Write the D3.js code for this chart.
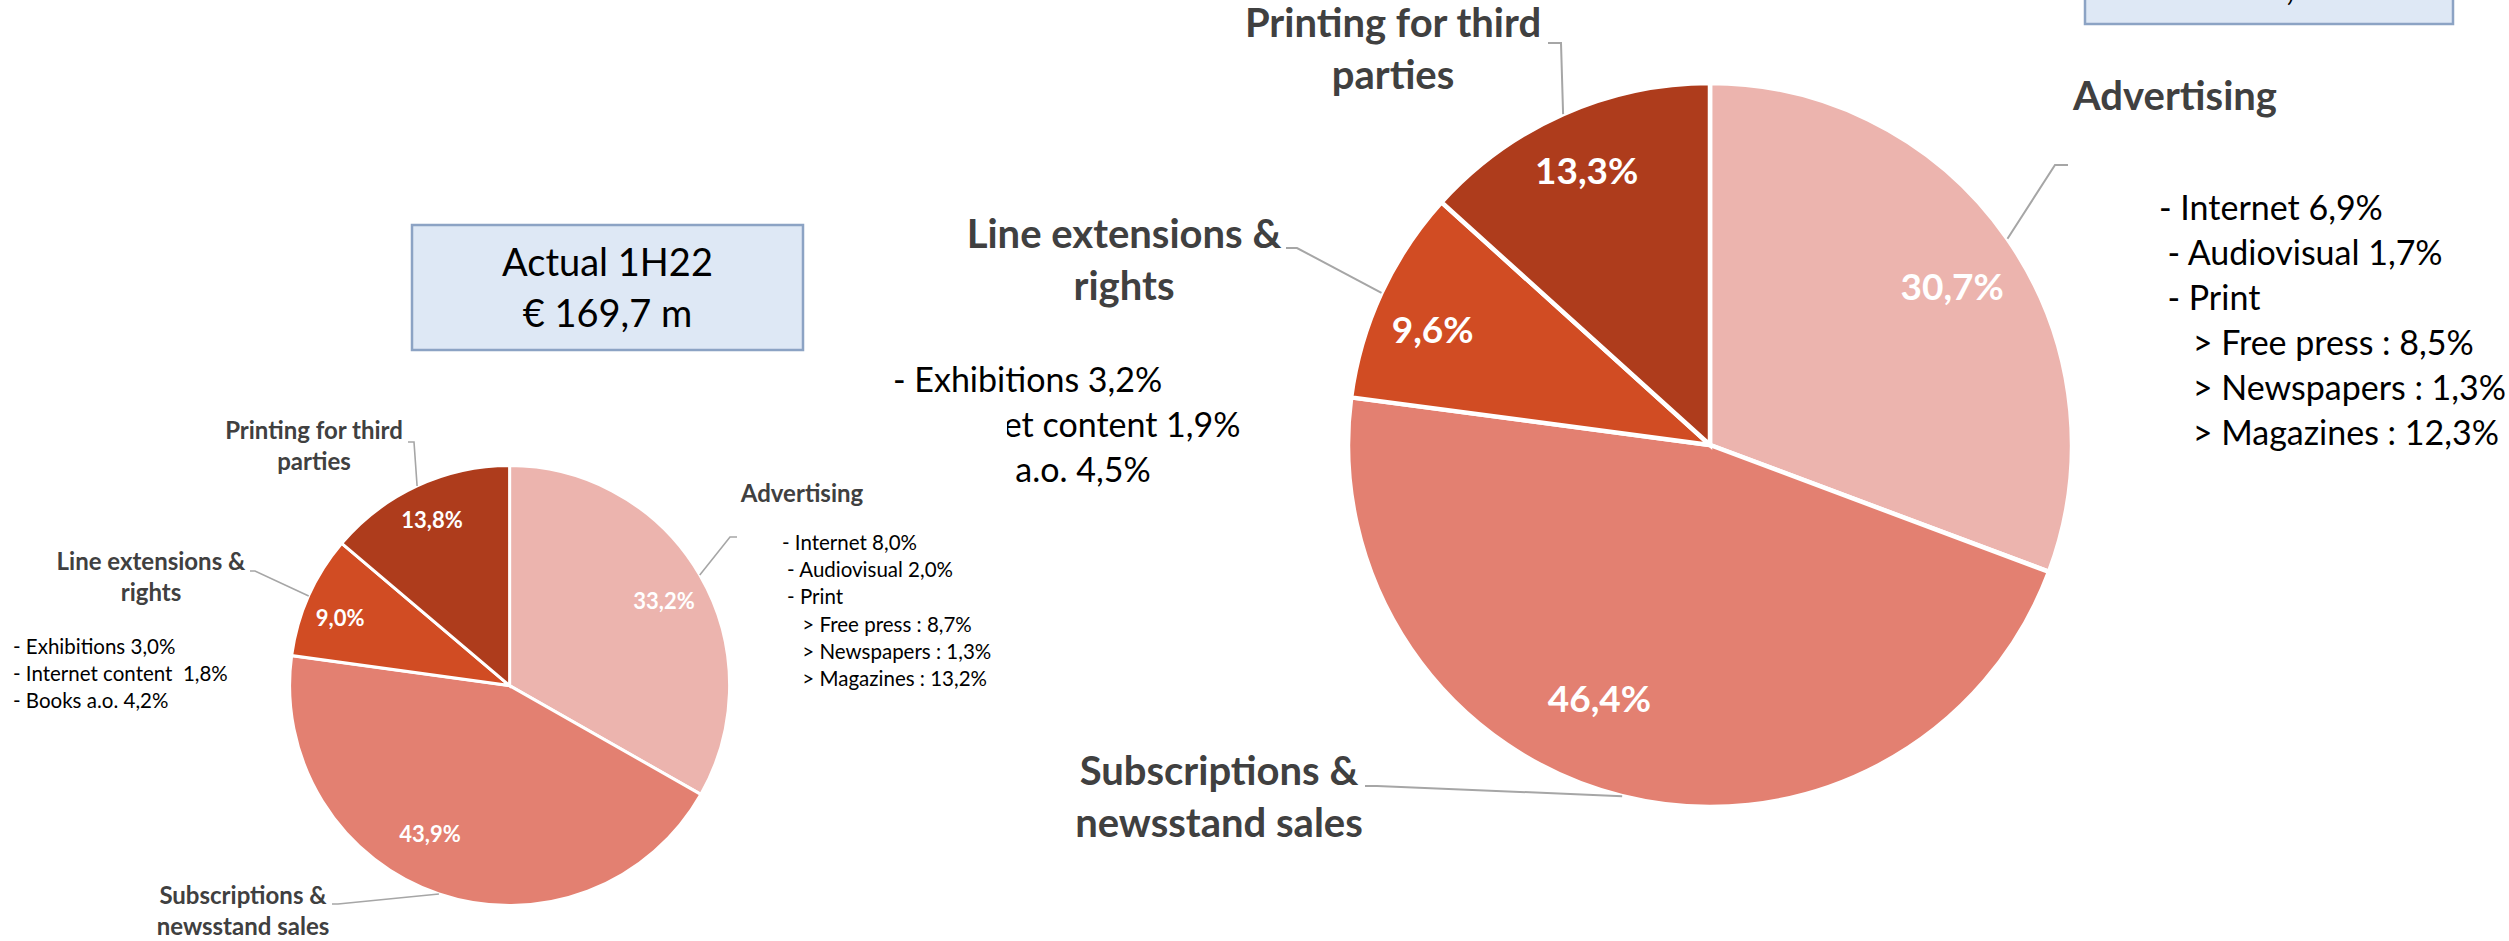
<!DOCTYPE html>
<html>
<head>
<meta charset="utf-8">
<script src="https://cdn.jsdelivr.net/npm/d3@7"></script>
<style>
  html, body { margin: 0; padding: 0; background: #fff; overflow: hidden; }
  svg { display: block; font-family: Lato, "Open Sans", sans-serif; }
  text { white-space: pre; }
</style>
</head>
<body>
<svg id="chart" width="2509" height="941"></svg>
<script>
// ---- data ----
const categories = ["Advertising", "Subscriptions & newsstand sales", "Line extensions & rights", "Printing for third parties"];
const categoryLines = [["Advertising"], ["Subscriptions &", "newsstand sales"], ["Line extensions &", "rights"], ["Printing for third", "parties"]];
const sharesActual1H22 = [33.2, 43.9, 9.0, 13.8];
const sharesCurrent = [30.7, 46.4, 9.6, 13.3];

const adDetail1H22 = ["- Internet 8,0%", " - Audiovisual 2,0%", " - Print", "    > Free press : 8,7%", "    > Newspapers : 1,3%", "    > Magazines : 13,2%"];
const lineExtDetail1H22 = ["- Exhibitions 3,0%", "- Internet content  1,8%", "- Books a.o. 4,2%"];
const adDetailCurrent = ["- Internet 6,9%", " - Audiovisual 1,7%", " - Print", "    > Free press : 8,5%", "    > Newspapers : 1,3%", "    > Magazines : 12,3%"];
const lineExtDetailCurrent = ["- Exhibitions 3,2%", "- Internet content 1,9%", "- Books a.o. 4,5%"];

const boxText1H22 = ["Actual 1H22", "€ 169,7 m"];
const boxTextCurrent = [","];

const sliceColors = ["#ECB4AE", "#E38071", "#D14C23", "#AE3C1C"];

// ---- helpers ----
const locale = d3.formatLocale({ decimal: ",", thousands: ".", grouping: [3], currency: ["€", ""] });
const fmtPct = v => locale.format(".1f")(v) + "%";

const svg = d3.select("#chart");

// per-category placement of the value labels inside the slices (radius factor, angle shift in degrees)
const valuePlacement = [
  { k: 0.80, shift: 1.5 },
  { k: 0.765, shift: 9.5 },
  { k: 0.83, shift: -2.2 },
  { k: 0.83, shift: -0.3 }
];

function drawPie(g, shares, L) {
  const pie = d3.pie().sort(null).value(d => d);
  const arcs = pie(shares);
  const arc = d3.arc().innerRadius(0).outerRadius(L.r);
  const edge = d3.arc().innerRadius(L.r).outerRadius(L.r);

  const pg = g.append("g").attr("transform", `translate(${L.cx},${L.cy})`);

  pg.selectAll("path.slice").data(arcs).join("path")
    .attr("class", "slice")
    .attr("d", arc)
    .attr("fill", (d, i) => sliceColors[i])
    .attr("stroke", "#fff")
    .attr("stroke-width", L.sep);

  // value labels
  pg.selectAll("text.val").data(arcs).join("text")
    .attr("class", "val")
    .each(function (d, i) {
      const p = valuePlacement[i];
      const a = (d.startAngle + d.endAngle) / 2 + p.shift * Math.PI / 180;
      const rr = L.r * p.k;
      d3.select(this)
        .attr("x", rr * Math.sin(a))
        .attr("y", -rr * Math.cos(a) + 0.36 * L.valueSize);
    })
    .attr("text-anchor", "middle")
    .attr("font-size", L.valueSize)
    .attr("font-weight", 700)
    .attr("fill", "#fff")
    .text(d => fmtPct(d.data));

  // leader lines
  const line = d3.line();
  arcs.forEach((d, i) => {
    const lab = L.labels[i];
    const s = edge.centroid(d);
    const start = [s[0] + L.cx, s[1] + L.cy];
    const end = lab.leader;
    const knee = [end[0] + lab.knee, end[1]];
    g.append("path")
      .attr("d", line([start, knee, end]))
      .attr("fill", "none")
      .attr("stroke", "#A6A6A6")
      .attr("stroke-width", L.leaderW);
  });

  // category labels
  categoryLines.forEach((lines, i) => {
    const lab = L.labels[i];
    const t = g.append("text")
      .attr("text-anchor", "middle")
      .attr("font-size", L.catSize)
      .attr("font-weight", 700)
      .attr("fill", "#404040");
    lines.forEach((ln, j) => {
      t.append("tspan").attr("x", lab.x).attr("y", lab.y + j * L.lineGap).text(ln);
    });
  });

  // breakdown details
  L.details.forEach(det => {
    det.lines.forEach((ln, j) => {
      const lead = ln.length - ln.trimStart().length;
      g.append("text")
        .attr("x", det.x + lead * 0.23 * L.detailSize * 1.08)
        .attr("y", det.y + j * L.detailGap)
        .attr("font-size", L.detailSize)
        .attr("fill", "#000")
        .text(ln.trimStart());
    });
  });
}

function drawBox(g, lines, B) {
  g.append("rect")
    .attr("x", B.x).attr("y", B.y).attr("width", B.w).attr("height", B.h)
    .attr("fill", "#DEE8F5").attr("stroke", "#8CA3C4").attr("stroke-width", 2.5);
  lines.forEach((ln, j) => {
    g.append("text")
      .attr("x", B.tx).attr("y", B.ty + j * B.gap)
      .attr("text-anchor", "middle")
      .attr("font-size", B.size)
      .attr("fill", "#000")
      .text(ln);
  });
}

// ---- larger pie (right) ----
const gCurrent = svg.append("g");
drawBox(gCurrent, boxTextCurrent, { x: 2085, y: -120, w: 368, h: 144, tx: 2290, ty: 0, gap: 51, size: 38 });
drawPie(gCurrent, sharesCurrent, {
  cx: 1710, cy: 445, r: 362, sep: 4.5, leaderW: 2,
  catSize: 40, lineGap: 52, valueSize: 37,
  detailSize: 34, detailGap: 45,
  labels: [
    { x: 2175, y: 110, leader: [2068, 165], knee: -13 },
    { x: 1219, y: 785, leader: [1365, 786], knee: 12 },
    { x: 1124, y: 248, leader: [1286, 248], knee: 11 },
    { x: 1393, y: 37, leader: [1548, 43], knee: 13 }
  ],
  details: [
    { x: 2159, y: 220, lines: adDetailCurrent },
    { x: 893, y: 392, lines: lineExtDetailCurrent }
  ]
});

// ---- smaller pie (left), drawn on its own white plot area ----
const gPrev = svg.append("g");
gPrev.append("rect").attr("x", 0).attr("y", 405).attr("width", 1007).attr("height", 536).attr("fill", "#fff");
drawPie(gPrev, sharesActual1H22, {
  cx: 509.6, cy: 685.6, r: 220, sep: 3, leaderW: 1.6,
  catSize: 24, lineGap: 30.5, valueSize: 22,
  detailSize: 20.5, detailGap: 27.2,
  labels: [
    { x: 802, y: 502, leader: [737, 537], knee: -7 },
    { x: 243, y: 904, leader: [332, 904], knee: 6 },
    { x: 151, y: 570, leader: [250, 571], knee: 5 },
    { x: 314, y: 439, leader: [408, 442], knee: 6 }
  ],
  details: [
    { x: 782, y: 550, lines: adDetail1H22 },
    { x: 13, y: 654, lines: lineExtDetail1H22 }
  ]
});
drawBox(gPrev, boxText1H22, { x: 412, y: 225, w: 391, h: 125, tx: 607.5, ty: 276, gap: 51, size: 38 });
</script>
</body>
</html>
